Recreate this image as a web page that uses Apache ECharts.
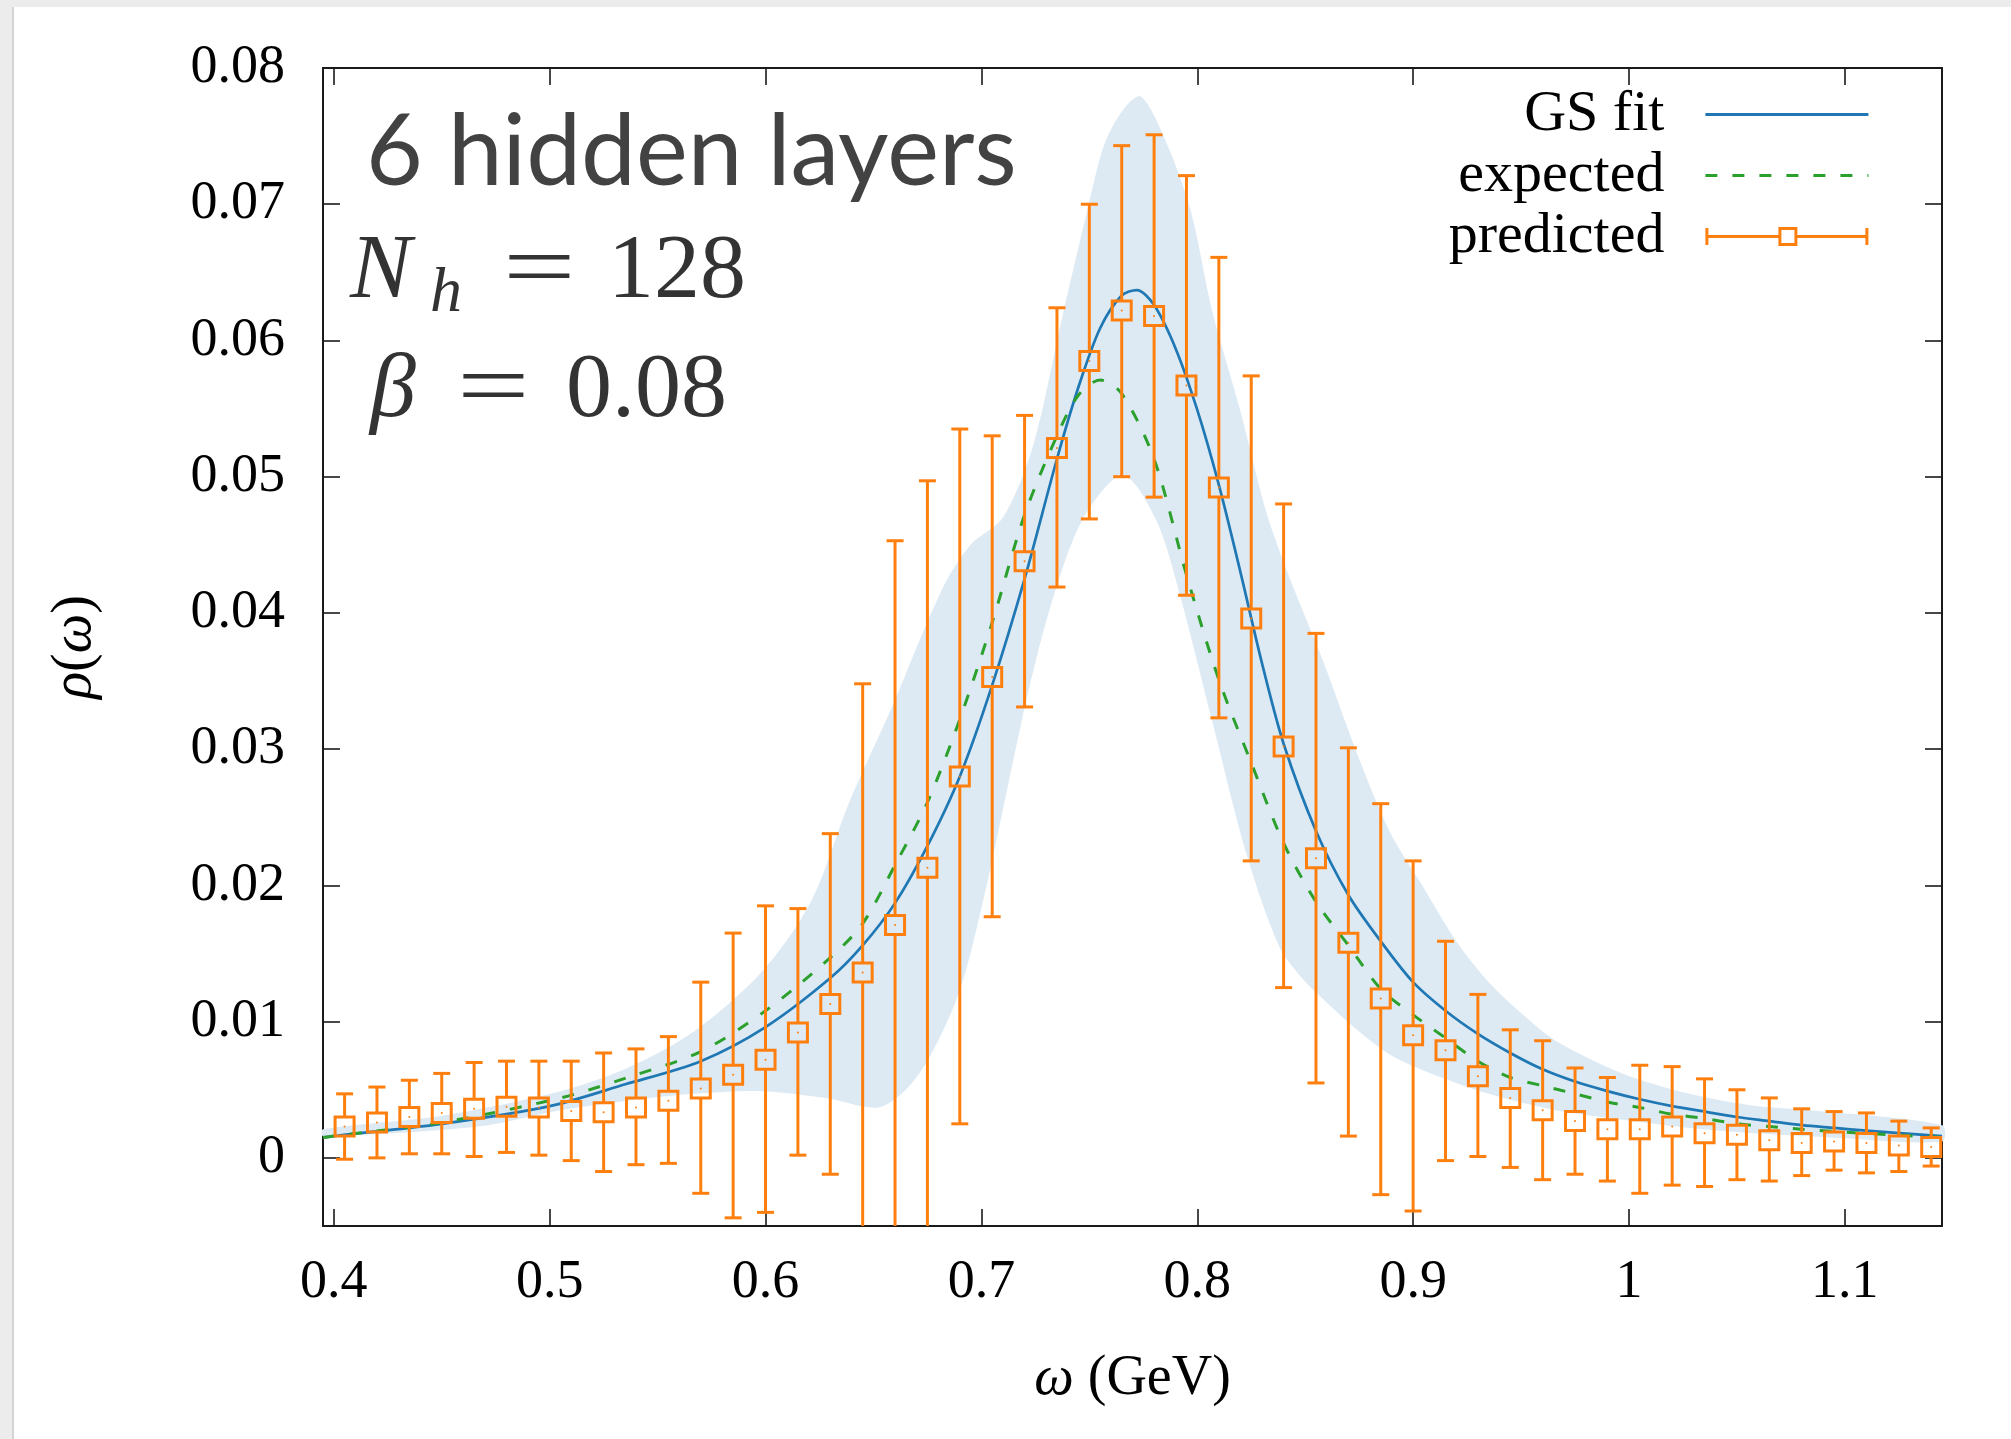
<!DOCTYPE html>
<html lang="en">
<head>
    <meta charset="UTF-8">
    <title>rho(omega) - 6 hidden layers</title>
    <style>
        * {
            padding: 0;
            margin: 0;
        }
        .EC {
            width: 2011px;
            height: 1439px;
            background: #fff;
        }
    </style>
</head>
<body>
<div class="EC"></div>
<script src="https://cdn.jsdelivr.net/npm/echarts@6/dist/echarts.min.js"></script>
<script>
    // omega grid of the predicted points (GeV)
    const omega = [0.405, 0.42, 0.435, 0.45, 0.465, 0.48, 0.495, 0.51, 0.525, 0.54,
        0.555, 0.57, 0.585, 0.6, 0.615, 0.63, 0.645, 0.66, 0.675, 0.69,
        0.705, 0.72, 0.735, 0.75, 0.765, 0.78, 0.795, 0.81, 0.825, 0.84,
        0.855, 0.87, 0.885, 0.9, 0.915, 0.93, 0.945, 0.96, 0.975, 0.99,
        1.005, 1.02, 1.035, 1.05, 1.065, 1.08, 1.095, 1.11, 1.125, 1.14]
    // predicted: centre, lower and upper end of the error bar
    const predMid = [0.0023, 0.0026, 0.0030, 0.0033, 0.0036, 0.00375, 0.0037, 0.00345, 0.00335, 0.0037,
        0.0042, 0.0051, 0.0061, 0.0072, 0.0092, 0.0113, 0.0136, 0.0171, 0.0213, 0.0280,
        0.0353, 0.0438, 0.0521, 0.0585, 0.0622, 0.0618, 0.0567, 0.0492, 0.0396, 0.0302,
        0.0220, 0.0158, 0.0117, 0.0090, 0.0079, 0.0060, 0.0044, 0.0035, 0.0027, 0.0021,
        0.0021, 0.0023, 0.0018, 0.0017, 0.0013, 0.0011, 0.0012, 0.0011, 0.0009, 0.0008]
    const predLow = [-0.0001, 0.0000, 0.0003, 0.0003, 0.0001, 0.0004, 0.0002, -0.0002, -0.0010, -0.0005,
        -0.0004, -0.0026, -0.0044, -0.0040, 0.0002, -0.0012, -0.0076, -0.0111, -0.0071, 0.0025,
        0.0177, 0.0331, 0.0419, 0.0469, 0.0500, 0.0485, 0.0413, 0.0323, 0.0218, 0.0125,
        0.0055, 0.0016, -0.0027, -0.0039, -0.0002, 0.0001, -0.0007, -0.0016, -0.0012, -0.0017,
        -0.0026, -0.0020, -0.0021, -0.0016, -0.0017, -0.0013, -0.0009, -0.0011, -0.0010, -0.0006]
    const predHigh = [0.0047, 0.0052, 0.0057, 0.0062, 0.0070, 0.0071, 0.0071, 0.0071, 0.0077, 0.0080,
        0.0089, 0.0129, 0.0165, 0.0185, 0.0183, 0.0238, 0.0348, 0.0453, 0.0497, 0.0535,
        0.0530, 0.0545, 0.0624, 0.0700, 0.0743, 0.0751, 0.0721, 0.0661, 0.0574, 0.0480,
        0.0385, 0.0301, 0.0260, 0.0218, 0.0159, 0.0120, 0.0094, 0.0086, 0.0066, 0.0059,
        0.0068, 0.0067, 0.0058, 0.0050, 0.0044, 0.0036, 0.0034, 0.0033, 0.0027, 0.0022]

    // GS fit curve
    const fitX = [0.395, 0.40, 0.45, 0.50, 0.535, 0.57, 0.60, 0.63, 0.645, 0.66,
        0.675, 0.69, 0.705, 0.72, 0.735, 0.745, 0.755, 0.765, 0.772, 0.78,
        0.79, 0.80, 0.81, 0.82, 0.83, 0.84, 0.855, 0.87, 0.885, 0.90,
        0.915, 0.93, 0.945, 0.96, 0.975, 0.99, 1.005, 1.02, 1.035, 1.05,
        1.065, 1.08, 1.095, 1.11, 1.145]
    const fitY = [0.0015, 0.0016, 0.0025, 0.0038, 0.0054, 0.0071, 0.0096, 0.0132, 0.0156, 0.0187,
        0.0229, 0.0280, 0.0347, 0.0425, 0.0513, 0.0566, 0.0609, 0.0633, 0.0637, 0.0626,
        0.0594, 0.0549, 0.0494, 0.0430, 0.0363, 0.0304, 0.0240, 0.0193, 0.0159, 0.0129,
        0.0108, 0.0091, 0.0077, 0.0065, 0.0056, 0.0049, 0.0043, 0.0038, 0.0034, 0.0030,
        0.0027, 0.0024, 0.0022, 0.0020, 0.0016]

    // expected curve
    const expX = [0.395, 0.40, 0.45, 0.505, 0.536, 0.57, 0.60, 0.63, 0.645, 0.66,
        0.675, 0.69, 0.705, 0.72, 0.735, 0.745, 0.755, 0.765, 0.78, 0.795,
        0.81, 0.825, 0.84, 0.855, 0.87, 0.885, 0.90, 0.915, 0.93, 0.945,
        0.96, 0.975, 0.99, 1.005, 1.02, 1.035, 1.05, 1.065, 1.08, 1.11, 1.145]
    const expY = [0.0015, 0.0016, 0.0026, 0.0044, 0.0059, 0.0078, 0.0108, 0.0147, 0.0172, 0.0215,
        0.0261, 0.0322, 0.0393, 0.0472, 0.0530, 0.0560, 0.0571, 0.0561, 0.0513, 0.0428,
        0.0351, 0.0290, 0.0231, 0.0188, 0.0156, 0.0124, 0.0105, 0.0088, 0.0071, 0.0059,
        0.0053, 0.0047, 0.0041, 0.0037, 0.0032, 0.0029, 0.0025, 0.0023, 0.0021, 0.0018, 0.0015]

    // light blue band, upper and lower edge
    const bandUpX = [0.395, 0.45, 0.505, 0.536, 0.567, 0.598, 0.621, 0.639, 0.658, 0.682,
        0.695, 0.71, 0.724, 0.738, 0.749, 0.757, 0.766, 0.774, 0.786, 0.797,
        0.807, 0.82, 0.832, 0.843, 0.858, 0.874, 0.889, 0.905, 0.92, 0.935,
        0.951, 0.966, 0.997, 1.028, 1.059, 1.084, 1.145]
    const bandUpY = [0.0021, 0.0031, 0.0049, 0.0066, 0.0093, 0.0136, 0.0188, 0.0262, 0.0329, 0.0418,
        0.0450, 0.0470, 0.0523, 0.0621, 0.0695, 0.0744, 0.0770, 0.0779, 0.0744, 0.0695,
        0.0621, 0.0548, 0.0474, 0.0425, 0.0366, 0.0297, 0.0240, 0.0198, 0.0159, 0.0129,
        0.0105, 0.0086, 0.0062, 0.0047, 0.0038, 0.0035, 0.0024]
    const bandLoX = [0.395, 0.467, 0.505, 0.536, 0.567, 0.598, 0.628, 0.652, 0.665, 0.676,
        0.69, 0.702, 0.712, 0.722, 0.733, 0.747, 0.7655, 0.781, 0.792, 0.807,
        0.823, 0.838, 0.848, 0.858, 0.874, 0.889, 0.905, 0.935, 0.966, 0.997,
        1.028, 1.059, 1.094, 1.145]
    const bandLoY = [0.0016, 0.0023, 0.0035, 0.0042, 0.0047, 0.0049, 0.0044, 0.0037, 0.0050, 0.0074,
        0.0123, 0.0197, 0.0271, 0.0344, 0.0410, 0.0469, 0.0501, 0.0468, 0.0413, 0.0320,
        0.0222, 0.0155, 0.0133, 0.0117, 0.0094, 0.0076, 0.0064, 0.0047, 0.0035, 0.0028,
        0.0022, 0.0018, 0.0015, 0.0012]

    // ticks
    const xTicks = [0.4, 0.5, 0.6, 0.7, 0.8, 0.9, 1, 1.1]
    const yTicks = [0, 0.01, 0.02, 0.03, 0.04, 0.05, 0.06, 0.07, 0.08]

    const X_MIN = 0.395, X_MAX = 1.145, Y_MIN = -0.005, Y_MAX = 0.08
    const BLUE = '#1f77b4', GREEN = '#2ca02c', ORANGE = '#ff7f0e', BAND = '#ddeaf4'
    const SERIF = 'Liberation Serif'
    const INK = '#333'

    const pairs = (xs, ys) => xs.map((x, i) => [x, ys[i]])

    // legend icon: error bar with an open square
    const predIcon = 'path://M0 1H3V18H0Z M160 1H163V18H160Z M3 8H73V11H3Z M92 8H160V11H92Z ' +
        'M73 0H92V3H73Z M73 16H92V19H73Z M73 0H76V19H73Z M89 0H92V19H89Z'

    const barStyle = () => ({ stroke: ORANGE, lineWidth: 3, fill: null })

    const renderBand = (params, api) => {
        let pts = bandUpX.map((x, i) => api.coord([x, bandUpY[i]]))
        let lo = bandLoX.map((x, i) => api.coord([x, bandLoY[i]])).reverse()
        return {
            type: 'polygon',
            shape: { points: pts.concat(lo), smooth: 0.3 },
            style: { fill: BAND }
        }
    }

    const renderBar = (params, api) => {
        let x = api.value(0)
        let mid = api.coord([x, api.value(1)])
        let loVal = api.value(2)
        let clipped = loVal < Y_MIN
        let lo = api.coord([x, clipped ? Y_MIN : loVal])
        let hi = api.coord([x, api.value(3)])
        let h = 9.5, c = 8.5, cx = mid[0]
        let kids = [
            { type: 'line', shape: { x1: cx, y1: hi[1], x2: cx, y2: mid[1] - h }, style: barStyle() },
            { type: 'line', shape: { x1: cx, y1: mid[1] + h, x2: cx, y2: lo[1] }, style: barStyle() },
            { type: 'line', shape: { x1: cx - c, y1: hi[1], x2: cx + c, y2: hi[1] }, style: barStyle() },
            { type: 'rect', shape: { x: cx - h, y: mid[1] - h, width: 2 * h, height: 2 * h }, style: barStyle() },
            { type: 'circle', shape: { cx: cx, cy: mid[1], r: 1 }, style: { fill: ORANGE } }
        ]
        if (!clipped) {
            kids.push({ type: 'line', shape: { x1: cx - c, y1: lo[1], x2: cx + c, y2: lo[1] }, style: barStyle() })
        }
        return { type: 'group', children: kids }
    }

    // text placed on its baseline (middle of the em box sits m*size above it)
    const label = (text, x, baseline, size, opts) => {
        let o = opts || {}
        let family = o.family || SERIF
        let m = family === 'Lato' ? 0.306 : 0.275
        return {
            type: 'text', x: x, y: baseline - m * size, z: 10,
            scaleX: o.scaleX || 1,
            style: {
                text: text,
                fontFamily: family,
                fontSize: size,
                fontStyle: o.italic ? 'italic' : 'normal',
                fill: o.color || INK,
                align: o.align || 'left',
                verticalAlign: 'middle'
            }
        }
    }

    const axisCommon = {
        type: 'value',
        axisLine: { show: true, onZero: false, lineStyle: { color: '#1a1a1a', width: 2 } },
        axisTick: { show: true, inside: true, length: 17, lineStyle: { color: '#1a1a1a', width: 1.6 } },
        splitLine: { show: false }
    }
    const nameStyle = {
        fontFamily: SERIF,
        fontSize: 56,
        color: '#000',
        rich: { i: { fontFamily: SERIF, fontSize: 56, fontStyle: 'italic', color: '#000' } }
    }

    const EC = echarts.init(document.querySelector('.EC'))
    const option = {
        animation: false,
        backgroundColor: '#fff',
        grid: { left: 323, right: 69, top: 68, bottom: 213, containLabel: false, outerBoundsMode: 'none' },
        xAxis: [{
            ...axisCommon,
            position: 'bottom',
            min: X_MIN,
            max: X_MAX,
            axisTick: { ...axisCommon.axisTick, customValues: xTicks },
            axisLabel: { customValues: xTicks, margin: 30, fontFamily: SERIF, fontSize: 54, color: '#000' },
            name: '{i|ω} (GeV)',
            nameLocation: 'middle',
            nameGap: 125,
            nameTextStyle: nameStyle
        }, {
            ...axisCommon,
            position: 'top',
            min: X_MIN,
            max: X_MAX,
            axisTick: { ...axisCommon.axisTick, customValues: xTicks },
            axisLabel: { show: false }
        }],
        yAxis: [{
            ...axisCommon,
            position: 'left',
            min: Y_MIN,
            max: Y_MAX,
            axisTick: { ...axisCommon.axisTick, customValues: yTicks },
            axisLabel: { customValues: yTicks, margin: 38, fontFamily: SERIF, fontSize: 54, color: '#000' },
            name: '{i|ρ}({i|ω})',
            nameLocation: 'middle',
            nameRotate: 90,
            nameGap: 220,
            nameTextStyle: nameStyle
        }, {
            ...axisCommon,
            position: 'right',
            min: Y_MIN,
            max: Y_MAX,
            axisTick: { ...axisCommon.axisTick, customValues: yTicks },
            axisLabel: { show: false }
        }],
        legend: {
            orient: 'vertical',
            right: 136,
            top: 79,
            align: 'right',
            itemWidth: 163,
            itemHeight: 19,
            itemGap: 0,
            selectedMode: false,
            lineStyle: { width: 3.2 },
            textStyle: {
                fontFamily: SERIF,
                fontSize: 58,
                color: '#000',
                lineHeight: 61,
                padding: [0, 36, 0, 0]
            },
            data: [
                { name: 'GS fit', itemStyle: { opacity: 0 }, lineStyle: { width: 3.2 } },
                { name: 'expected', itemStyle: { opacity: 0 }, lineStyle: { width: 3.2 } },
                { name: 'predicted', icon: predIcon }
            ]
        },
        graphic: [
            // viewer margins of the screenshot
            { type: 'rect', left: 0, top: 0, shape: { width: 2011, height: 7 }, style: { fill: '#ececec' }, silent: true },
            { type: 'rect', left: 0, top: 0, shape: { width: 12, height: 1439 }, style: { fill: '#ececec' }, silent: true },
            { type: 'rect', left: 12, top: 7, shape: { width: 2, height: 1432 }, style: { fill: '#d4d4d4' }, silent: true },
            // annotations
            label('6 hidden layers', 366, 183, 98, { family: 'Lato', color: '#424242' }),
            label('N', 350, 298, 92, { italic: true }),
            label('h', 430, 312, 64, { italic: true }),
            label('=', 503, 298, 92, { scaleX: 1.4 }),
            label('128', 746, 298, 92, { align: 'right' }),
            label('β', 370, 417, 92, { italic: true }),
            label('=', 457, 417, 92, { scaleX: 1.4 }),
            label('0.08', 727, 417, 92, { align: 'right' })
        ],
        series: [{
            name: 'band',
            type: 'custom',
            silent: true,
            z: 1,
            data: [[bandUpX[0], bandUpY[0]]],
            renderItem: renderBand
        }, {
            name: 'GS fit',
            type: 'line',
            z: 3,
            symbol: 'none',
            smooth: 0.3,
            color: BLUE,
            lineStyle: { color: BLUE, width: 2.7 },
            data: pairs(fitX, fitY)
        }, {
            name: 'expected',
            type: 'line',
            z: 3,
            symbol: 'none',
            smooth: 0.3,
            color: GREEN,
            lineStyle: { color: GREEN, width: 3, type: [12, 15] },
            data: pairs(expX, expY)
        }, {
            name: 'predicted',
            type: 'custom',
            z: 4,
            color: ORANGE,
            encode: { x: 0, y: [1, 2, 3] },
            data: omega.map((w, i) => [w, predMid[i], predLow[i], predHigh[i]]),
            renderItem: renderBar
        }]
    }
    EC.setOption(option)
</script>
</body>
</html>
